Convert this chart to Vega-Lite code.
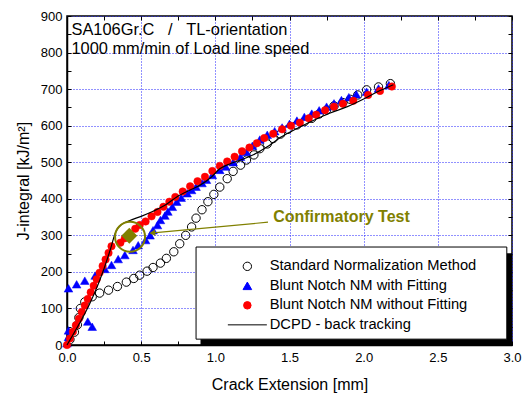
{
  "$schema": "https://vega.github.io/schema/vega-lite/v6.json",
  "width": 445,
  "height": 329,
  "autosize": "none",
  "padding": {"left": 67, "top": 16, "right": 10, "bottom": 49},
  "background": "white",
  "config": {
    "font": "Liberation Sans",
    "view": {"stroke": "#000000", "strokeWidth": 1.5},
    "axis": {
      "labelFont": "Liberation Sans", "labelFontSize": 13, "labelColor": "#000000",
      "titleFont": "Liberation Sans", "titleFontSize": 16, "titleFontWeight": "normal", "titleColor": "#000000",
      "domainColor": "#000000", "domainWidth": 1.5,
      "tickColor": "#000000", "tickSize": -4, "tickWidth": 1,
      "gridColor": "#2222ff", "gridDash": [1, 2], "gridWidth": 1
    },
    "legend": {
      "orient": "none", "legendX": 173, "legendY": 243,
      "labelFont": "Liberation Sans", "labelFontSize": 14.7, "labelColor": "#000000", "labelLimit": 0,
      "symbolStrokeWidth": 1, "labelOffset": 15, "rowPadding": 3.5, "padding": 0
    }
  },
  "resolve": {"axis": {"x": "independent", "y": "independent"}},
  "layer": [
    {
      "data": {"values": [
        {"s": "Standard Normalization Method", "x": 0.02, "J": 15},
        {"s": "Standard Normalization Method", "x": 0.05, "J": 35},
        {"s": "Standard Normalization Method", "x": 0.07, "J": 55},
        {"s": "Standard Normalization Method", "x": 0.08, "J": 75},
        {"s": "Standard Normalization Method", "x": 0.09, "J": 100},
        {"s": "Standard Normalization Method", "x": 0.12, "J": 118},
        {"s": "Standard Normalization Method", "x": 0.17, "J": 132},
        {"s": "Standard Normalization Method", "x": 0.22, "J": 142},
        {"s": "Standard Normalization Method", "x": 0.28, "J": 150},
        {"s": "Standard Normalization Method", "x": 0.34, "J": 160},
        {"s": "Standard Normalization Method", "x": 0.40, "J": 172},
        {"s": "Standard Normalization Method", "x": 0.45, "J": 182},
        {"s": "Standard Normalization Method", "x": 0.49, "J": 191},
        {"s": "Standard Normalization Method", "x": 0.54, "J": 202},
        {"s": "Standard Normalization Method", "x": 0.58, "J": 212},
        {"s": "Standard Normalization Method", "x": 0.63, "J": 224},
        {"s": "Standard Normalization Method", "x": 0.67, "J": 237},
        {"s": "Standard Normalization Method", "x": 0.72, "J": 255},
        {"s": "Standard Normalization Method", "x": 0.76, "J": 277},
        {"s": "Standard Normalization Method", "x": 0.80, "J": 300},
        {"s": "Standard Normalization Method", "x": 0.84, "J": 323},
        {"s": "Standard Normalization Method", "x": 0.87, "J": 347},
        {"s": "Standard Normalization Method", "x": 0.91, "J": 370},
        {"s": "Standard Normalization Method", "x": 0.95, "J": 392},
        {"s": "Standard Normalization Method", "x": 0.99, "J": 412},
        {"s": "Standard Normalization Method", "x": 1.03, "J": 432},
        {"s": "Standard Normalization Method", "x": 1.08, "J": 455},
        {"s": "Standard Normalization Method", "x": 1.12, "J": 475},
        {"s": "Standard Normalization Method", "x": 1.17, "J": 492},
        {"s": "Standard Normalization Method", "x": 1.21, "J": 506},
        {"s": "Standard Normalization Method", "x": 1.26, "J": 520},
        {"s": "Standard Normalization Method", "x": 1.30, "J": 537},
        {"s": "Standard Normalization Method", "x": 1.35, "J": 550},
        {"s": "Standard Normalization Method", "x": 1.39, "J": 565},
        {"s": "Standard Normalization Method", "x": 1.44, "J": 577},
        {"s": "Standard Normalization Method", "x": 1.49, "J": 590},
        {"s": "Standard Normalization Method", "x": 1.55, "J": 602},
        {"s": "Standard Normalization Method", "x": 1.60, "J": 611},
        {"s": "Standard Normalization Method", "x": 1.65, "J": 620},
        {"s": "Standard Normalization Method", "x": 1.70, "J": 632},
        {"s": "Standard Normalization Method", "x": 1.75, "J": 643},
        {"s": "Standard Normalization Method", "x": 1.80, "J": 654},
        {"s": "Standard Normalization Method", "x": 1.86, "J": 663},
        {"s": "Standard Normalization Method", "x": 1.91, "J": 672},
        {"s": "Standard Normalization Method", "x": 1.96, "J": 684},
        {"s": "Standard Normalization Method", "x": 2.02, "J": 698},
        {"s": "Standard Normalization Method", "x": 2.10, "J": 706},
        {"s": "Standard Normalization Method", "x": 2.18, "J": 715}
      ]},
      "mark": {"type": "point", "filled": false, "strokeWidth": 1, "opacity": 1},
      "encoding": {
        "x": {"field": "x", "type": "quantitative", "scale": {"domain": [0, 3], "nice": false, "zero": false},
          "axis": {"orient": "bottom", "title": "Crack Extension [mm]", "titlePadding": 12,
            "values": [0, 0.25, 0.5, 0.75, 1, 1.25, 1.5, 1.75, 2, 2.25, 2.5, 2.75, 3],
            "labelExpr": "datum.value % 0.5 == 0 ? format(datum.value, '.1f') : ''",
            "labelPadding": 10, "labelFlush": false, "labelOverlap": false,
            "grid": true, "gridOpacity": {"condition": {"test": "datum.value % 0.5 == 0", "value": 1}, "value": 0}}},
        "y": {"field": "J", "type": "quantitative", "scale": {"domain": [0, 900], "nice": false, "zero": false},
          "axis": {"orient": "left", "title": "J-integral [kJ/m²]", "titlePadding": 9,
            "values": [0, 50, 100, 150, 200, 250, 300, 350, 400, 450, 500, 550, 600, 650, 700, 750, 800, 850, 900],
            "labelExpr": "datum.value % 100 == 0 ? format(datum.value, 'd') : ''",
            "labelPadding": 9, "labelFlush": false, "labelOverlap": false,
            "grid": true, "gridOpacity": {"condition": {"test": "datum.value % 100 == 0", "value": 1}, "value": 0}}},
        "fill": {"field": "s", "type": "nominal", "scale": {"domain": ["Standard Normalization Method", "Blunt Notch NM with Fitting", "Blunt Notch NM without Fitting", "DCPD - back tracking"], "range": ["transparent", "#0000ff", "#ff0000", "transparent"]}, "title": null},
        "stroke": {"field": "s", "type": "nominal", "scale": {"domain": ["Standard Normalization Method", "Blunt Notch NM with Fitting", "Blunt Notch NM without Fitting", "DCPD - back tracking"], "range": ["#000000", "#0000ff", "#ff0000", "#000000"]}, "title": null},
        "shape": {"field": "s", "type": "nominal", "scale": {"domain": ["Standard Normalization Method", "Blunt Notch NM with Fitting", "Blunt Notch NM without Fitting", "DCPD - back tracking"], "range": ["circle", "triangle-up", "circle", "M-3.9,0H3.9"]}, "title": null},
        "size": {"field": "s", "type": "nominal", "scale": {"type": "ordinal", "domain": ["Standard Normalization Method", "Blunt Notch NM with Fitting", "Blunt Notch NM without Fitting", "DCPD - back tracking"], "range": [70, 75, 56, 100]}, "title": null}
      }
    },
    {
      "data": {"values": [
        {"s": "Blunt Notch NM with Fitting", "x": 0.0, "J": 5},
        {"s": "Blunt Notch NM with Fitting", "x": 0.01, "J": 22},
        {"s": "Blunt Notch NM with Fitting", "x": 0.01, "J": 40},
        {"s": "Blunt Notch NM with Fitting", "x": 0.14, "J": 64},
        {"s": "Blunt Notch NM with Fitting", "x": 0.17, "J": 50},
        {"s": "Blunt Notch NM with Fitting", "x": 0.01, "J": 155},
        {"s": "Blunt Notch NM with Fitting", "x": 0.065, "J": 166},
        {"s": "Blunt Notch NM with Fitting", "x": 0.12, "J": 176},
        {"s": "Blunt Notch NM with Fitting", "x": 0.19, "J": 190},
        {"s": "Blunt Notch NM with Fitting", "x": 0.255, "J": 208},
        {"s": "Blunt Notch NM with Fitting", "x": 0.30, "J": 219},
        {"s": "Blunt Notch NM with Fitting", "x": 0.345, "J": 235},
        {"s": "Blunt Notch NM with Fitting", "x": 0.39, "J": 246},
        {"s": "Blunt Notch NM with Fitting", "x": 0.445, "J": 260},
        {"s": "Blunt Notch NM with Fitting", "x": 0.48, "J": 273},
        {"s": "Blunt Notch NM with Fitting", "x": 0.53, "J": 287},
        {"s": "Blunt Notch NM with Fitting", "x": 0.56, "J": 300},
        {"s": "Blunt Notch NM with Fitting", "x": 0.58, "J": 314},
        {"s": "Blunt Notch NM with Fitting", "x": 0.61, "J": 328},
        {"s": "Blunt Notch NM with Fitting", "x": 0.63, "J": 342},
        {"s": "Blunt Notch NM with Fitting", "x": 0.66, "J": 354},
        {"s": "Blunt Notch NM with Fitting", "x": 0.68, "J": 365},
        {"s": "Blunt Notch NM with Fitting", "x": 0.71, "J": 378},
        {"s": "Blunt Notch NM with Fitting", "x": 0.74, "J": 392},
        {"s": "Blunt Notch NM with Fitting", "x": 0.77, "J": 403},
        {"s": "Blunt Notch NM with Fitting", "x": 0.81, "J": 415},
        {"s": "Blunt Notch NM with Fitting", "x": 0.84, "J": 424},
        {"s": "Blunt Notch NM with Fitting", "x": 0.87, "J": 433},
        {"s": "Blunt Notch NM with Fitting", "x": 0.91, "J": 443},
        {"s": "Blunt Notch NM with Fitting", "x": 0.94, "J": 452},
        {"s": "Blunt Notch NM with Fitting", "x": 0.98, "J": 465},
        {"s": "Blunt Notch NM with Fitting", "x": 1.03, "J": 479},
        {"s": "Blunt Notch NM with Fitting", "x": 1.07, "J": 488},
        {"s": "Blunt Notch NM with Fitting", "x": 1.12, "J": 500},
        {"s": "Blunt Notch NM with Fitting", "x": 1.17, "J": 515},
        {"s": "Blunt Notch NM with Fitting", "x": 1.21, "J": 528},
        {"s": "Blunt Notch NM with Fitting", "x": 1.25, "J": 545},
        {"s": "Blunt Notch NM with Fitting", "x": 1.30, "J": 562},
        {"s": "Blunt Notch NM with Fitting", "x": 1.35, "J": 575},
        {"s": "Blunt Notch NM with Fitting", "x": 1.40, "J": 585},
        {"s": "Blunt Notch NM with Fitting", "x": 1.45, "J": 595},
        {"s": "Blunt Notch NM with Fitting", "x": 1.50, "J": 605},
        {"s": "Blunt Notch NM with Fitting", "x": 1.55, "J": 614},
        {"s": "Blunt Notch NM with Fitting", "x": 1.60, "J": 624},
        {"s": "Blunt Notch NM with Fitting", "x": 1.65, "J": 633},
        {"s": "Blunt Notch NM with Fitting", "x": 1.70, "J": 642},
        {"s": "Blunt Notch NM with Fitting", "x": 1.75, "J": 652},
        {"s": "Blunt Notch NM with Fitting", "x": 1.80, "J": 661},
        {"s": "Blunt Notch NM with Fitting", "x": 1.85, "J": 670},
        {"s": "Blunt Notch NM with Fitting", "x": 1.90, "J": 678},
        {"s": "Blunt Notch NM with Fitting", "x": 1.95, "J": 686},
        {"s": "Blunt Notch NM with Fitting", "x": 2.02, "J": 693},
        {"s": "Blunt Notch NM with Fitting", "x": 2.10, "J": 702},
        {"s": "Blunt Notch NM with Fitting", "x": 2.17, "J": 711}
      ]},
      "mark": {"type": "point", "filled": true, "strokeWidth": 0.5, "opacity": 1},
      "encoding": {
        "x": {"field": "x", "type": "quantitative",
          "axis": {"orient": "top", "title": null, "labels": false, "grid": false, "domain": false,
            "values": [0, 0.25, 0.5, 0.75, 1, 1.25, 1.5, 1.75, 2, 2.25, 2.5, 2.75, 3]}},
        "y": {"field": "J", "type": "quantitative",
          "axis": {"orient": "right", "title": null, "labels": false, "grid": false, "domain": false,
            "values": [0, 50, 100, 150, 200, 250, 300, 350, 400, 450, 500, 550, 600, 650, 700, 750, 800, 850, 900]}},
        "fill": {"field": "s", "type": "nominal", "scale": {"domain": ["Standard Normalization Method", "Blunt Notch NM with Fitting", "Blunt Notch NM without Fitting", "DCPD - back tracking"], "range": ["transparent", "#0000ff", "#ff0000", "transparent"]}, "title": null},
        "stroke": {"field": "s", "type": "nominal", "scale": {"domain": ["Standard Normalization Method", "Blunt Notch NM with Fitting", "Blunt Notch NM without Fitting", "DCPD - back tracking"], "range": ["#000000", "#0000ff", "#ff0000", "#000000"]}, "title": null},
        "shape": {"field": "s", "type": "nominal", "scale": {"domain": ["Standard Normalization Method", "Blunt Notch NM with Fitting", "Blunt Notch NM without Fitting", "DCPD - back tracking"], "range": ["circle", "triangle-up", "circle", "M-3.9,0H3.9"]}, "title": null},
        "size": {"field": "s", "type": "nominal", "scale": {"type": "ordinal", "domain": ["Standard Normalization Method", "Blunt Notch NM with Fitting", "Blunt Notch NM without Fitting", "DCPD - back tracking"], "range": [70, 75, 56, 100]}, "title": null}
      }
    },
    {
      "data": {"values": [
        {"s": "Blunt Notch NM without Fitting", "x": 0.00, "J": 0},
        {"s": "Blunt Notch NM without Fitting", "x": 0.02, "J": 18},
        {"s": "Blunt Notch NM without Fitting", "x": 0.04, "J": 36},
        {"s": "Blunt Notch NM without Fitting", "x": 0.06, "J": 54},
        {"s": "Blunt Notch NM without Fitting", "x": 0.08, "J": 72},
        {"s": "Blunt Notch NM without Fitting", "x": 0.10, "J": 90},
        {"s": "Blunt Notch NM without Fitting", "x": 0.12, "J": 108},
        {"s": "Blunt Notch NM without Fitting", "x": 0.14, "J": 126},
        {"s": "Blunt Notch NM without Fitting", "x": 0.16, "J": 144},
        {"s": "Blunt Notch NM without Fitting", "x": 0.18, "J": 162},
        {"s": "Blunt Notch NM without Fitting", "x": 0.20, "J": 180},
        {"s": "Blunt Notch NM without Fitting", "x": 0.22, "J": 198},
        {"s": "Blunt Notch NM without Fitting", "x": 0.24, "J": 216},
        {"s": "Blunt Notch NM without Fitting", "x": 0.26, "J": 234},
        {"s": "Blunt Notch NM without Fitting", "x": 0.28, "J": 252},
        {"s": "Blunt Notch NM without Fitting", "x": 0.30, "J": 270},
        {"s": "Blunt Notch NM without Fitting", "x": 0.36, "J": 280},
        {"s": "Blunt Notch NM without Fitting", "x": 0.39, "J": 292},
        {"s": "Blunt Notch NM without Fitting", "x": 0.42, "J": 304},
        {"s": "Blunt Notch NM without Fitting", "x": 0.46, "J": 318},
        {"s": "Blunt Notch NM without Fitting", "x": 0.49, "J": 328},
        {"s": "Blunt Notch NM without Fitting", "x": 0.53, "J": 338},
        {"s": "Blunt Notch NM without Fitting", "x": 0.57, "J": 352},
        {"s": "Blunt Notch NM without Fitting", "x": 0.61, "J": 364},
        {"s": "Blunt Notch NM without Fitting", "x": 0.65, "J": 378},
        {"s": "Blunt Notch NM without Fitting", "x": 0.69, "J": 392},
        {"s": "Blunt Notch NM without Fitting", "x": 0.73, "J": 405},
        {"s": "Blunt Notch NM without Fitting", "x": 0.78, "J": 420},
        {"s": "Blunt Notch NM without Fitting", "x": 0.83, "J": 434},
        {"s": "Blunt Notch NM without Fitting", "x": 0.88, "J": 448},
        {"s": "Blunt Notch NM without Fitting", "x": 0.93, "J": 460},
        {"s": "Blunt Notch NM without Fitting", "x": 0.98, "J": 476},
        {"s": "Blunt Notch NM without Fitting", "x": 1.03, "J": 490},
        {"s": "Blunt Notch NM without Fitting", "x": 1.08, "J": 502},
        {"s": "Blunt Notch NM without Fitting", "x": 1.13, "J": 515},
        {"s": "Blunt Notch NM without Fitting", "x": 1.18, "J": 530},
        {"s": "Blunt Notch NM without Fitting", "x": 1.23, "J": 540},
        {"s": "Blunt Notch NM without Fitting", "x": 1.28, "J": 552},
        {"s": "Blunt Notch NM without Fitting", "x": 1.33, "J": 566},
        {"s": "Blunt Notch NM without Fitting", "x": 1.39, "J": 578},
        {"s": "Blunt Notch NM without Fitting", "x": 1.45, "J": 590},
        {"s": "Blunt Notch NM without Fitting", "x": 1.51, "J": 600},
        {"s": "Blunt Notch NM without Fitting", "x": 1.57, "J": 608},
        {"s": "Blunt Notch NM without Fitting", "x": 1.63, "J": 620},
        {"s": "Blunt Notch NM without Fitting", "x": 1.68, "J": 630},
        {"s": "Blunt Notch NM without Fitting", "x": 1.74, "J": 642},
        {"s": "Blunt Notch NM without Fitting", "x": 1.80, "J": 652},
        {"s": "Blunt Notch NM without Fitting", "x": 1.86, "J": 660},
        {"s": "Blunt Notch NM without Fitting", "x": 1.93, "J": 668},
        {"s": "Blunt Notch NM without Fitting", "x": 2.03, "J": 684},
        {"s": "Blunt Notch NM without Fitting", "x": 2.11, "J": 695},
        {"s": "Blunt Notch NM without Fitting", "x": 2.19, "J": 707}
      ]},
      "mark": {"type": "point", "filled": true, "strokeWidth": 0.5, "opacity": 1},
      "encoding": {
        "x": {"field": "x", "type": "quantitative", "axis": null},
        "y": {"field": "J", "type": "quantitative", "axis": null},
        "fill": {"field": "s", "type": "nominal", "scale": {"domain": ["Standard Normalization Method", "Blunt Notch NM with Fitting", "Blunt Notch NM without Fitting", "DCPD - back tracking"], "range": ["transparent", "#0000ff", "#ff0000", "transparent"]}, "title": null},
        "stroke": {"field": "s", "type": "nominal", "scale": {"domain": ["Standard Normalization Method", "Blunt Notch NM with Fitting", "Blunt Notch NM without Fitting", "DCPD - back tracking"], "range": ["#000000", "#0000ff", "#ff0000", "#000000"]}, "title": null},
        "shape": {"field": "s", "type": "nominal", "scale": {"domain": ["Standard Normalization Method", "Blunt Notch NM with Fitting", "Blunt Notch NM without Fitting", "DCPD - back tracking"], "range": ["circle", "triangle-up", "circle", "M-3.9,0H3.9"]}, "title": null},
        "size": {"field": "s", "type": "nominal", "scale": {"type": "ordinal", "domain": ["Standard Normalization Method", "Blunt Notch NM with Fitting", "Blunt Notch NM without Fitting", "DCPD - back tracking"], "range": [70, 75, 56, 100]}, "title": null}
      }
    },
    {
      "data": {"values": [
        {"s": "DCPD - back tracking", "x": 0.0, "J": 0},
        {"s": "DCPD - back tracking", "x": 0.30, "J": 272},
        {"s": "DCPD - back tracking", "x": 0.32, "J": 300},
        {"s": "DCPD - back tracking", "x": 0.34, "J": 318},
        {"s": "DCPD - back tracking", "x": 0.37, "J": 330},
        {"s": "DCPD - back tracking", "x": 0.42, "J": 340},
        {"s": "DCPD - back tracking", "x": 0.50, "J": 352},
        {"s": "DCPD - back tracking", "x": 0.58, "J": 366},
        {"s": "DCPD - back tracking", "x": 0.66, "J": 382},
        {"s": "DCPD - back tracking", "x": 0.74, "J": 405},
        {"s": "DCPD - back tracking", "x": 0.83, "J": 424},
        {"s": "DCPD - back tracking", "x": 0.90, "J": 438},
        {"s": "DCPD - back tracking", "x": 0.97, "J": 458},
        {"s": "DCPD - back tracking", "x": 1.03, "J": 482},
        {"s": "DCPD - back tracking", "x": 1.10, "J": 496},
        {"s": "DCPD - back tracking", "x": 1.17, "J": 506},
        {"s": "DCPD - back tracking", "x": 1.26, "J": 521},
        {"s": "DCPD - back tracking", "x": 1.35, "J": 542},
        {"s": "DCPD - back tracking", "x": 1.44, "J": 568},
        {"s": "DCPD - back tracking", "x": 1.55, "J": 592},
        {"s": "DCPD - back tracking", "x": 1.66, "J": 614},
        {"s": "DCPD - back tracking", "x": 1.77, "J": 634},
        {"s": "DCPD - back tracking", "x": 1.89, "J": 652},
        {"s": "DCPD - back tracking", "x": 2.00, "J": 673},
        {"s": "DCPD - back tracking", "x": 2.09, "J": 692},
        {"s": "DCPD - back tracking", "x": 2.20, "J": 712}
      ]},
      "mark": {"type": "line", "strokeWidth": 1.2, "interpolate": "monotone"},
      "encoding": {
        "x": {"field": "x", "type": "quantitative", "axis": null},
        "y": {"field": "J", "type": "quantitative", "axis": null},
        "stroke": {"field": "s", "type": "nominal", "scale": {"domain": ["Standard Normalization Method", "Blunt Notch NM with Fitting", "Blunt Notch NM without Fitting", "DCPD - back tracking"], "range": ["#000000", "#0000ff", "#ff0000", "#000000"]}, "title": null}
      }
    },
    {
      "data": {"values": [{}]},
      "mark": {"type": "rect", "fill": "#000000"},
      "encoding": {"x": {"datum": 0.9, "type": "quantitative", "axis": null}, "x2": {"datum": 3.0}, "y": {"datum": 0, "type": "quantitative", "axis": null}, "y2": {"datum": 251}}
    },
    {
      "data": {"values": [{}]},
      "mark": {"type": "rect", "fill": "#ffffff", "stroke": "#000000", "strokeWidth": 1},
      "encoding": {"x": {"datum": 0.87, "type": "quantitative", "axis": null}, "x2": {"datum": 2.965}, "y": {"datum": 16, "type": "quantitative", "axis": null}, "y2": {"datum": 268}}
    },
    {
      "data": {"values": [{}]},
      "mark": {"type": "point", "shape": "circle", "filled": false, "stroke": "#808000", "strokeWidth": 2, "size": 900, "opacity": 1},
      "encoding": {"x": {"datum": 0.425, "type": "quantitative", "axis": null}, "y": {"datum": 296, "type": "quantitative", "axis": null}}
    },
    {
      "data": {"values": [{}]},
      "mark": {"type": "point", "shape": "diamond", "filled": true, "fill": "#808000", "stroke": "#808000", "size": 170, "opacity": 1},
      "encoding": {"x": {"datum": 0.42, "type": "quantitative", "axis": null}, "y": {"datum": 299, "type": "quantitative", "axis": null}}
    },
    {
      "data": {"values": [{}]},
      "mark": {"type": "rule", "stroke": "#808000", "strokeWidth": 1.2},
      "encoding": {"x": {"datum": 1.355, "type": "quantitative", "axis": null}, "y": {"datum": 336, "type": "quantitative", "axis": null}, "x2": {"datum": 0.58}, "y2": {"datum": 306.5}}
    },
    {
      "data": {"values": [{}]},
      "mark": {"type": "point", "shape": "triangle-left", "filled": true, "fill": "#808000", "size": 45, "angle": -6, "opacity": 1},
      "encoding": {"x": {"datum": 0.575, "type": "quantitative", "axis": null}, "y": {"datum": 306.3, "type": "quantitative", "axis": null}}
    },
    {
      "data": {"values": [{}]},
      "mark": {"type": "text", "text": "Confirmatory Test", "font": "Liberation Sans", "fontSize": 16, "fontWeight": "bold", "fill": "#808000", "align": "left", "baseline": "middle"},
      "encoding": {"x": {"datum": 1.39, "type": "quantitative", "axis": null}, "y": {"datum": 351, "type": "quantitative", "axis": null}}
    },
    {
      "data": {"values": [{}]},
      "mark": {"type": "text", "text": ["SA106Gr.C\u00a0\u00a0\u00a0/\u00a0\u00a0\u00a0TL-orientation", "1000 mm/min of Load line speed"], "font": "Liberation Sans", "fontSize": 16.4, "fill": "#000000", "align": "left", "baseline": "alphabetic", "lineHeight": 19},
      "encoding": {"x": {"datum": 0.03, "type": "quantitative", "axis": null}, "y": {"datum": 848, "type": "quantitative", "axis": null}}
    }
  ]
}
